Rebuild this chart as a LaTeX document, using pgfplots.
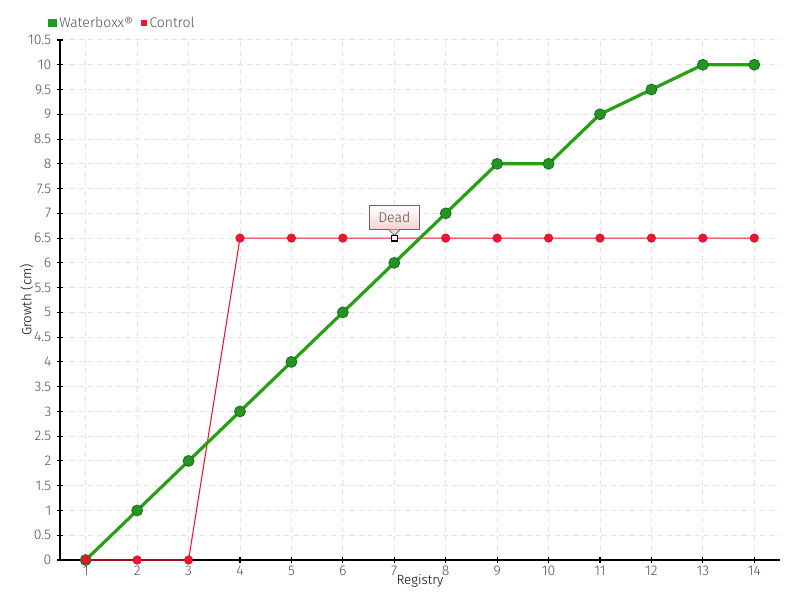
\documentclass[border=0pt]{standalone}
\usepackage{pgfplots}
\pgfplotsset{compat=1.18}
\usepackage{fontspec}
\setmainfont{Fira Sans Light}
\usetikzlibrary{shadings}
\definecolor{wgreen}{RGB}{40,160,20}
\definecolor{wgreenm}{RGB}{34,150,34}
\definecolor{wgreend}{RGB}{25,110,25}
\definecolor{cred}{RGB}{238,20,50}
\definecolor{txt}{RGB}{80,80,80}
\definecolor{gridc}{RGB}{228,228,228}
\definecolor{tippink}{RGB}{252,210,210}
\begin{document}
\begin{tikzpicture}
\useasboundingbox (-45bp,-30bp) rectangle (555bp,420bp);
\begin{axis}[
  scale only axis,
  width=540bp, height=390bp,
  xmin=0.5, xmax=14.5, ymin=0, ymax=10.5,
  xtick={1,...,14}, ytick={0,0.5,...,10.5},
  axis x line=bottom, axis y line=left,
  axis line style={-, black, line width=1bp},
  tick align=center, major tick length=4bp,
  tick style={black, line width=0.8bp},
  grid=major,
  major grid style={gridc, dash pattern=on 4bp off 3bp, line width=0.75bp},
  tick label style={font=\fontsize{10.5bp}{12bp}\selectfont, text=txt},
  /pgf/number format/assume math mode=true,
  yticklabel style={xshift=-1bp},
  xticklabel style={yshift=1bp},
  xlabel={Registry}, ylabel={Growth (cm)},
  label style={font=\fontsize{10.5bp}{12bp}\selectfont, text=txt},
  every axis x label/.style={at={(axis description cs:0.5,0)}, yshift=-15.75bp, anchor=center},
  every axis y label/.style={at={(axis description cs:0,0.5)}, xshift=-25bp, rotate=90, anchor=center},
  legend columns=2,
  legend style={at={(axis description cs:0,1)}, anchor=south west, xshift=-9bp, yshift=6bp,
    draw=none, fill=none, inner sep=0pt, font=\fontsize{10.5bp}{12bp}\selectfont, text=txt,
    /tikz/every even column/.append style={column sep=4bp}},
  legend cell align=left,
  clip=false,
]
% red line behind
\addplot[cred, line width=0.8bp, forget plot] coordinates {
(1,0)(2,0)(3,0)(4,6.5)(5,6.5)(6,6.5)(7,6.5)(8,6.5)(9,6.5)(10,6.5)(11,6.5)(12,6.5)(13,6.5)(14,6.5)};
% green line with marks
\addplot[color=wgreenm, line width=2.4bp, draw=wgreen, mark=*, mark size=4.1bp,
  mark options={fill=wgreenm, draw=wgreend, line width=0.6bp},
  legend image code/.code={\fill[wgreenm] (1bp,-2bp) rectangle (5bp,2bp);}]
  coordinates {
(1,0)(2,1)(3,2)(4,3)(5,4)(6,5)(7,6)(8,7)(9,8)(10,8)(11,9)(12,9.5)(13,10)(14,10)};
\addlegendentry{Waterboxx®}
% red marks
\addplot[color=cred, only marks, mark=*, mark size=3.2bp,
  mark options={fill=cred, draw=cred!85!black, line width=0.4bp},
  legend image code/.code={\fill[cred] (1bp,-2bp) rectangle (5bp,2bp);}]
  coordinates {
(1,0)(2,0)(3,0)(4,6.5)(5,6.5)(6,6.5)(8,6.5)(9,6.5)(10,6.5)(11,6.5)(12,6.5)(13,6.5)(14,6.5)};
\addlegendentry{Control}
% hovered point
\addplot[only marks, mark=square*, mark size=2.2bp, mark options={fill=white, draw=black, line width=0.9bp}, forget plot]
  coordinates {(7,6.5)};
% tooltip
\node[draw=gray!80!black, line width=0.6bp, top color=white, bottom color=tippink,
  minimum width=37.5bp, minimum height=18.5bp, inner sep=0pt, anchor=south,
  font=\fontsize{10.5bp}{12bp}\selectfont, text=txt] (tip) at ([yshift=6bp]axis cs:7,6.5) {Dead};
\fill[tippink] ([xshift=-4bp,yshift=0.3bp]tip.south) -- ([yshift=-4bp]tip.south) -- ([xshift=4bp,yshift=0.3bp]tip.south) -- cycle;
\draw[gray!80!black, line width=0.6bp] ([xshift=-4bp]tip.south) -- ([yshift=-4bp]tip.south) -- ([xshift=4bp]tip.south);
\end{axis}
\end{tikzpicture}
\end{document}
